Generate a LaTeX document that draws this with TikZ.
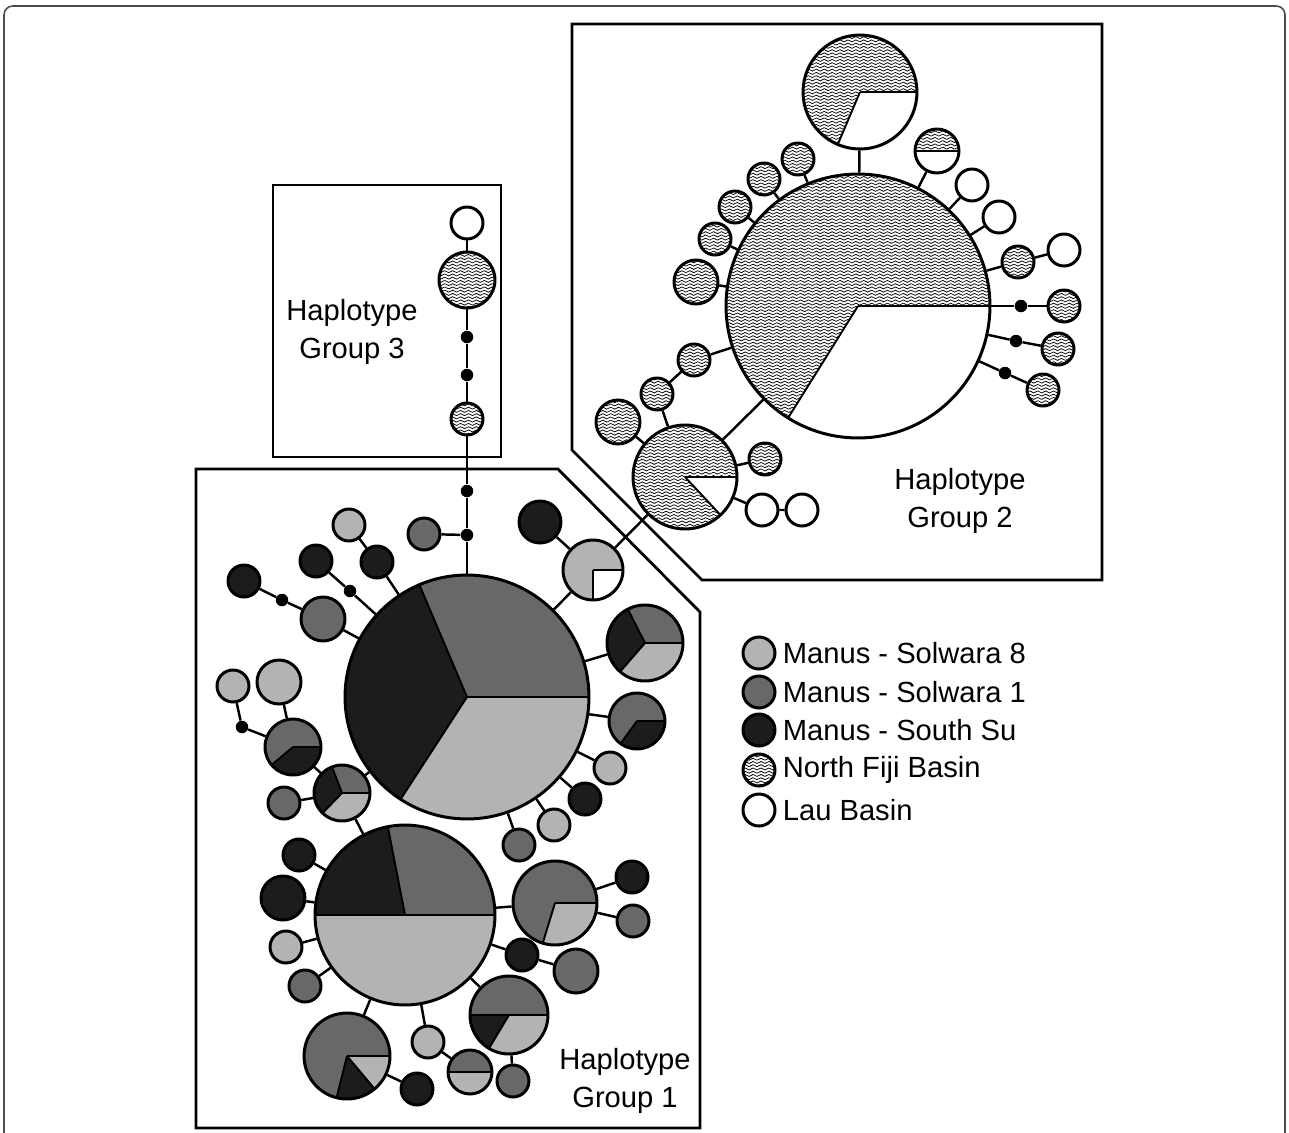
\documentclass[tikz,border=0pt]{standalone}
\usepackage{fontspec}
\setmainfont{Liberation Sans}
\usepackage{tikz}
\usetikzlibrary{patterns,positioning}
\definecolor{lgrey}{HTML}{B3B3B3}
\definecolor{mgrey}{HTML}{686868}
\definecolor{dgrey}{HTML}{1C1C1C}
\pgfdeclarepatternformonly{wavy}{\pgfpoint{-0.2pt}{-0.9pt}}{\pgfpoint{4.7pt}{0.9pt}}{\pgfpoint{4.5pt}{1.85pt}}{
\pgfsetlinewidth{0.42pt}
\pgfpathmoveto{\pgfpoint{0pt}{0pt}}
\pgfpathsine{\pgfpoint{1.125pt}{0.55pt}}
\pgfpathcosine{\pgfpoint{1.125pt}{-0.55pt}}
\pgfpathsine{\pgfpoint{1.125pt}{-0.55pt}}
\pgfpathcosine{\pgfpoint{1.125pt}{0.55pt}}
\pgfusepath{stroke}
}
\newcommand{\hapslice}[3]{%
\fill[#3] (path picture bounding box.center) -- ++(#1:3cm) arc[start angle=#1,end angle=#2,radius=3cm] -- cycle;
\draw[line width=1.1pt] (path picture bounding box.center) -- ++(#1:3cm) (path picture bounding box.center) -- ++(#2:3cm);}
\tikzset{
hap/.style={circle, draw=black, line width=1.7pt, inner sep=0pt, minimum size=#1*0.04cm},
sol8/.style={fill=lgrey},
sol1/.style={fill=mgrey},
ssu/.style={fill=dgrey},
nfb/.style={pattern=wavy},
lau/.style={fill=white},
mdot/.style={circle, fill=black, inner sep=0pt, minimum size=0.25cm},
link/.style={line width=1.4pt},
grpbox/.style={line width=1.6pt},
grplabel/.style={align=center, inner sep=0pt, font=\fontsize{16.6}{21.2}\selectfont},
legtext/.style={inner sep=0pt, font=\fontsize{16.6}{19}\selectfont},
}
\begin{document}
\begin{tikzpicture}[x=0.02cm,y=-0.02cm]
\useasboundingbox (0,0) rectangle (1289,1133);
\draw[line width=0.9pt, gray!60!black, rounded corners=5pt] (4,1150) -- (4,6) -- (1285,6) -- (1285,1150);

% group boxes
\draw[grpbox] (273,185) rectangle (501,457);
\draw[grpbox] (196,1128) -- (196,469) -- (558,469) -- (700,612) -- (700,1128) -- cycle;
\draw[grpbox] (572,450) -- (572,24) -- (1102,24) -- (1102,580) -- (702,580) -- cycle;
\node[grplabel] at (352,332) (lab3) {Haplotype\\Group 3};
\node[grplabel] at (960,501) (lab2) {Haplotype\\Group 2};
\node[grplabel] at (625,1081) (lab1) {Haplotype\\Group 1};

% group 2
\node[hap=132, nfb, path picture={\hapslice{-122}{0}{white}}] at (858,306) (fj) {};
\node[hap=57, nfb, path picture={\hapslice{-113}{0}{white}}] at (860,92) (fjtop) {};
\node[hap=22, nfb, path picture={\hapslice{180}{360}{white}}] at (937,151) (fjhalf) {};
\node[hap=16, lau] at (972,185) (lau1) {};
\node[hap=16, lau] at (999,217) (lau2) {};
\node[hap=16, nfb] at (1018,262) (fj1) {};
\node[hap=16, lau] at (1064,250) (lau3) {};
\node[mdot] at (1021,306) (fjd1) {};
\node[hap=16, nfb] at (1064,306) (fj2) {};
\node[mdot] at (1016,341) (fjd2) {};
\node[hap=16, nfb] at (1058,349) (fj3) {};
\node[mdot] at (1005,373) (fjd3) {};
\node[hap=16, nfb] at (1043,390) (fj4) {};
\node[hap=16, nfb] at (798,159) (fj5) {};
\node[hap=16, nfb] at (764,179) (fj6) {};
\node[hap=16, nfb] at (735,207) (fj7) {};
\node[hap=16, nfb] at (715,239) (fj8) {};
\node[hap=22, nfb] at (696,282) (fj9) {};
\node[hap=16, nfb] at (694,360) (fj10) {};
\node[hap=16, nfb] at (657,394) (fj11) {};
\node[hap=22, nfb] at (618,422) (fj12) {};
\node[hap=52, nfb, path picture={\hapslice{-47}{0}{white}}] at (685,477) (fjmid) {};
\node[hap=16, nfb] at (765,459) (fj13) {};
\node[hap=16, lau] at (762,510) (lau4) {};
\node[hap=16, lau] at (802,510) (lau5) {};
\draw[link] (fj) -- (fjtop);
\draw[link] (fj) -- (fjhalf);
\draw[link] (fj) -- (lau1);
\draw[link] (fj) -- (lau2);
\draw[link] (fj) -- (fj1) -- (lau3);
\draw[link] (fj) -- (fjd1) -- (fj2);
\draw[link] (fj) -- (fjd2) -- (fj3);
\draw[link] (fj) -- (fjd3) -- (fj4);
\draw[link] (fj) -- (fj5);
\draw[link] (fj) -- (fj6);
\draw[link] (fj) -- (fj7);
\draw[link] (fj) -- (fj8);
\draw[link] (fj) -- (fj9);
\draw[link] (fj) -- (fj10) -- (fj11) -- (fjmid);
\draw[link] (fj) -- (fjmid);
\draw[link] (fjmid) -- (fj12);
\draw[link] (fjmid) -- (fj13);
\draw[link] (fjmid) -- (lau4) -- (lau5);

% group 3
\node[hap=16, lau] at (467,223) (g3lau) {};
\node[hap=28, nfb] at (467,280) (g3fj) {};
\node[mdot] at (467,337) (g3d1) {};
\node[mdot] at (467,375) (g3d2) {};
\node[hap=16, nfb] at (467,419) (g3fj2) {};
\draw[link] (g3lau) -- (g3fj) -- (g3d1) -- (g3d2) -- (g3fj2);

% group 1
\node[mdot] at (467,491) (g1d1) {};
\node[mdot] at (467,535) (g1d2) {};
\node[hap=16, sol1] at (424,534) (s1a) {};
\node[hap=122, sol1, path picture={\hapslice{113}{237}{dgrey}\hapslice{237}{360}{lgrey}}] at (467,697) (hub) {};
\node[hap=30, sol8, path picture={\hapslice{-90}{0}{white}}] at (593,570) (s8q) {};
\node[hap=21, ssu] at (540,522) (su1) {};
\node[hap=38, sol1, path picture={\hapslice{117}{229}{dgrey}\hapslice{229}{360}{lgrey}}] at (645,643) (mix1) {};
\node[hap=28, sol1, path picture={\hapslice{234}{360}{dgrey}}] at (637,721) (mix2) {};
\node[hap=16, sol8] at (610,768) (s8b) {};
\node[hap=16, ssu] at (585,799) (su2) {};
\node[hap=16, sol8] at (554,825) (s8c) {};
\node[hap=16, sol1] at (519,845) (s1b) {};
\node[hap=16, sol8] at (349,525) (s8d) {};
\node[hap=16, ssu] at (377,562) (su3) {};
\node[hap=16, ssu] at (316,561) (su4) {};
\node[mdot] at (350,591) (g1d3) {};
\node[hap=16, ssu] at (244,581) (su5) {};
\node[mdot] at (282,600) (g1d4) {};
\node[hap=22, sol1] at (323,619) (s1c) {};
\node[hap=16, sol8] at (233,686) (s8e) {};
\node[hap=22, sol8] at (279,682) (s8f) {};
\node[mdot] at (242,727) (g1d5) {};
\node[hap=28, sol1, path picture={\hapslice{220}{360}{dgrey}}] at (293,747) (mix3) {};
\node[hap=28, sol1, path picture={\hapslice{111}{226}{dgrey}\hapslice{226}{360}{lgrey}}] at (342,793) (mix4) {};
\node[hap=16, sol1] at (284,803) (s1d) {};
\node[hap=90, sol1, path picture={\hapslice{101}{180}{dgrey}\hapslice{180}{360}{lgrey}}] at (405,915) (hub2) {};
\node[hap=16, ssu] at (299,855) (su6) {};
\node[hap=22, ssu] at (283,898) (su7) {};
\node[hap=16, sol8] at (286,947) (s8g) {};
\node[hap=16, sol1] at (305,986) (s1e) {};
\node[hap=43, sol1, path picture={\hapslice{256}{310}{dgrey}\hapslice{310}{360}{lgrey}}] at (347,1056) (mix5) {};
\node[hap=16, ssu] at (417,1089) (su8) {};
\node[hap=16, sol8] at (428,1042) (s8h) {};
\node[hap=22, sol1, path picture={\hapslice{180}{360}{lgrey}}] at (470,1072) (half) {};
\node[hap=39, sol1, path picture={\hapslice{180}{239}{dgrey}\hapslice{239}{360}{lgrey}}] at (509,1015) (mix6) {};
\node[hap=16, sol1] at (513,1081) (s1f) {};
\node[hap=16, ssu] at (522,955) (su9) {};
\node[hap=22, sol1] at (576,971) (s1g) {};
\node[hap=42, sol1, path picture={\hapslice{253}{360}{lgrey}}] at (555,903) (mix7) {};
\node[hap=16, ssu] at (632,877) (su10) {};
\node[hap=16, sol1] at (633,921) (s1h) {};
\draw[link] (g3fj2) -- (g1d1) -- (g1d2) -- (hub);
\draw[link] (g1d2) -- (s1a);
\draw[link] (hub) -- (s8q) -- (su1);
\draw[link] (s8q) -- (fjmid);
\draw[link] (hub) -- (mix1);
\draw[link] (hub) -- (mix2);
\draw[link] (hub) -- (s8b);
\draw[link] (hub) -- (su2);
\draw[link] (hub) -- (s8c);
\draw[link] (hub) -- (s1b);
\draw[link] (hub) -- (su3) -- (s8d);
\draw[link] (hub) -- (g1d3) -- (su4);
\draw[link] (hub) -- (s1c) -- (g1d4) -- (su5);
\draw[link] (hub) -- (mix4) -- (mix3) -- (s8f);
\draw[link] (mix3) -- (g1d5) -- (s8e);
\draw[link] (mix4) -- (s1d);
\draw[link] (mix4) -- (hub2);
\draw[link] (hub2) -- (su6);
\draw[link] (hub2) -- (su7);
\draw[link] (hub2) -- (s8g);
\draw[link] (hub2) -- (s1e);
\draw[link] (hub2) -- (mix5) -- (su8);
\draw[link] (hub2) -- (s8h) -- (half);
\draw[link] (hub2) -- (mix6) -- (s1f);
\draw[link] (hub2) -- (su9) -- (s1g);
\draw[link] (hub2) -- (mix7) -- (su10);
\draw[link] (mix7) -- (s1h);

% legend
\node[hap=16, sol8] at (759,653) (k1) {};
\node[hap=16, sol1] at (759,692) (k2) {};
\node[hap=16, ssu] at (759,730) (k3) {};
\node[hap=16, nfb] at (759,770) (k4) {};
\node[hap=16, lau] at (759,810) (k5) {};
\node[legtext, right=0.12cm of k1] (t1) {Manus - Solwara 8};
\node[legtext, right=0.12cm of k2] (t2) {Manus - Solwara 1};
\node[legtext, right=0.12cm of k3] (t3) {Manus - South Su};
\node[legtext, right=0.12cm of k4] (t4) {North Fiji Basin};
\node[legtext, right=0.12cm of k5] (t5) {Lau Basin};
\end{tikzpicture}
\end{document}
